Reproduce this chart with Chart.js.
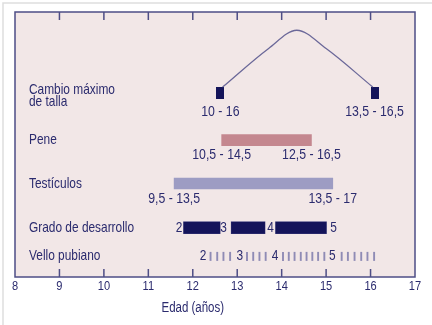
<!DOCTYPE html>
<html>
<head>
<meta charset="utf-8">
<script src="https://cdn.jsdelivr.net/npm/chart.js@4/dist/chart.umd.min.js"></script>
<style>
html, body { margin: 0; padding: 0; background: #fff; }
#wrap { position: relative; width: 432px; height: 325px; }
</style>
</head>
<body>
<div id="wrap"><canvas id="grafico"></canvas></div>
<script>
"use strict";

// rows (top to bottom) and their level on the hidden y axis
const rowNames = [["Cambio máximo", "de talla"], ["Pene"], ["Testículos"], ["Grado de desarrollo"], ["Vello pubiano"]];
const rowLevels = [5.5, 8.7, 11.65, 14.65, 16.6];

// cambio máximo de talla
const tallaPeaks = [12.62, 16.09];
const tallaLabels = ["10 - 16", "13,5 - 16,5"];
const curveX = [12.67, 13.7, 14.34, 15.0, 16.05];
const curveY = [5.1, 2.49, 1.24, 2.48, 5.1];

// pene y testículos
const peneRange = [12.65, 14.67];
const peneLabels = ["10,5 - 14,5", "12,5 - 16,5"];
const testRange = [11.58, 15.15];
const testLabels = ["9,5 - 13,5", "13,5 - 17"];

// grado de desarrollo
const gradoBars = [[11.79, 12.62], [12.86, 13.63], [13.86, 15.01]];
const gradoStages = ["2", "3", "4", "5"];
const gradoStageAt = [11.69, 12.69, 13.75, 15.17];

// vello pubiano
const velloStages = ["2", "3", "4", "5"];
const velloStageAt = [12.23, 13.06, 13.85, 15.14];
const velloTicks = [12.40, 12.55, 12.69, 12.84,
    13.22, 13.36, 13.50, 13.64,
    14.03, 14.16, 14.29, 14.43, 14.56, 14.69, 14.82, 14.96,
    15.35, 15.49, 15.64, 15.79, 15.93, 16.08];

const xTicks = [8, 9, 10, 11, 12, 13, 14, 15, 16, 17];
const xTitle = "Edad (años)";

// Liberation Sans squeezed to narrow width
const family = "'Liberation Sans', Arial, sans-serif";
const squeeze = 0.82;
const textColor = "#2b2b6e";
const navy = "#14145a";

// small navy block used as point style for the talla marks
const block = document.createElement("canvas");
block.width = 8;
block.height = 12;
const bctx = block.getContext("2d");
bctx.fillStyle = navy;
bctx.fillRect(0, 0, 8, 12);

function narrowText(ctx, t, px, py) {
    ctx.save();
    ctx.translate(px, py);
    ctx.scale(squeeze, 1);
    ctx.fillText(t, 0, 0);
    ctx.restore();
}

const decor = {
    id: "decor",
    beforeDraw(chart) {
        const {ctx, chartArea: a} = chart;
        ctx.save();
        ctx.fillStyle = "#ffffff";
        ctx.fillRect(0, 0, chart.width, chart.height);
        ctx.strokeStyle = "#dedede";
        ctx.lineWidth = 1.5;
        ctx.beginPath();
        ctx.moveTo(3, chart.height);
        ctx.lineTo(3, 3);
        ctx.lineTo(chart.width, 3);
        ctx.stroke();
        ctx.fillStyle = "#f2e7e7";
        ctx.fillRect(a.left, a.top, a.width, a.height);
        ctx.restore();
    },
    afterDraw(chart) {
        const {ctx, chartArea: a} = chart;
        const x = chart.scales.x, y = chart.scales.y;
        ctx.save();

        ctx.strokeStyle = "#4e4e86";
        ctx.lineWidth = 1.5;
        ctx.strokeRect(a.left, a.top, a.width, a.height);

        ctx.beginPath();
        xTicks.forEach(v => {
            if (v <= x.min || v >= x.max) return;
            const px = x.getPixelForValue(v);
            ctx.moveTo(px, a.top);
            ctx.lineTo(px, a.top + 8);
            ctx.moveTo(px, a.bottom);
            ctx.lineTo(px, a.bottom - 8);
        });
        ctx.stroke();

        ctx.fillStyle = textColor;
        ctx.textBaseline = "middle";
        ctx.textAlign = "center";
        ctx.font = "13.5px " + family;
        xTicks.forEach(v => narrowText(ctx, String(v), x.getPixelForValue(v), a.bottom + 9));
        ctx.font = "14px " + family;
        narrowText(ctx, xTitle, x.getPixelForValue(12), a.bottom + 31);

        // row names
        ctx.textAlign = "left";
        ctx.font = "14.5px " + family;
        rowNames.forEach((lines, i) => {
            const py = y.getPixelForValue(rowLevels[i]);
            lines.forEach((t, j) => {
                narrowText(ctx, t, a.left + 14, py + (j - (lines.length - 1) * 0.25) * 12.5);
            });
        });

        // range labels under the marks
        ctx.textAlign = "center";
        ctx.font = "15px " + family;
        const under = (vals, labels, level, gap) => {
            const py = y.getPixelForValue(level) + gap;
            vals.forEach((v, i) => narrowText(ctx, labels[i], x.getPixelForValue(v), py));
        };
        under(tallaPeaks, tallaLabels, rowLevels[0], 19);
        under(peneRange, peneLabels, rowLevels[1], 15);
        under(testRange, testLabels, rowLevels[2], 15);

        // stage numbers
        ctx.font = "14.5px " + family;
        gradoStages.forEach((t, i) => narrowText(ctx, t, x.getPixelForValue(gradoStageAt[i]), y.getPixelForValue(rowLevels[3])));
        velloStages.forEach((t, i) => narrowText(ctx, t, x.getPixelForValue(velloStageAt[i]), y.getPixelForValue(rowLevels[4])));

        ctx.restore();
    }
};

const ctx = document.getElementById("grafico");

const chart1 = new Chart(ctx, {
    data: {
        datasets: [
            {
                type: "line",
                data: curveX.map((v, i) => ({x: v, y: curveY[i]})),
                borderColor: "#6b6899",
                borderWidth: 1.3,
                pointRadius: 0,
                cubicInterpolationMode: "monotone",
                fill: false,
            },
            {
                type: "scatter",
                data: tallaPeaks.map(v => ({x: v, y: rowLevels[0]})),
                pointStyle: block,
                pointRadius: 6,
            },
            {
                type: "bar",
                indexAxis: "y",
                grouped: false,
                data: [{x: peneRange, y: rowLevels[1]}],
                backgroundColor: "#c4878f",
                barThickness: 11,
            },
            {
                type: "bar",
                indexAxis: "y",
                grouped: false,
                data: [{x: testRange, y: rowLevels[2]}],
                backgroundColor: "#9d9cc3",
                barThickness: 11,
            },
            {
                type: "bar",
                indexAxis: "y",
                grouped: false,
                data: gradoBars.map(r => ({x: r, y: rowLevels[3]})),
                backgroundColor: navy,
                borderColor: "#3a3a7a",
                borderWidth: 0.6,
                borderSkipped: false,
                barThickness: 12,
            },
            {
                type: "scatter",
                data: velloTicks.map(v => ({x: v, y: rowLevels[4]})),
                pointStyle: "line",
                rotation: 90,
                pointRadius: 4.5,
                borderColor: "#8f8bb5",
                borderWidth: 1.9,
            },
        ],
    },
    options: {
        responsive: true,
        maintainAspectRatio: false,
        animation: false,
        events: [],
        layout: {
            padding: {left: 15, top: 12, right: 17, bottom: 48},
        },
        scales: {
            x: {type: "linear", min: 8, max: 17, display: false, offset: false},
            y: {type: "linear", min: 0, max: 18, reverse: true, display: false, offset: false, grid: {offset: false}},
        },
        plugins: {
            legend: {display: false},
            tooltip: {enabled: false},
        },
    },
    plugins: [decor],
});
</script>
</body>
</html>
